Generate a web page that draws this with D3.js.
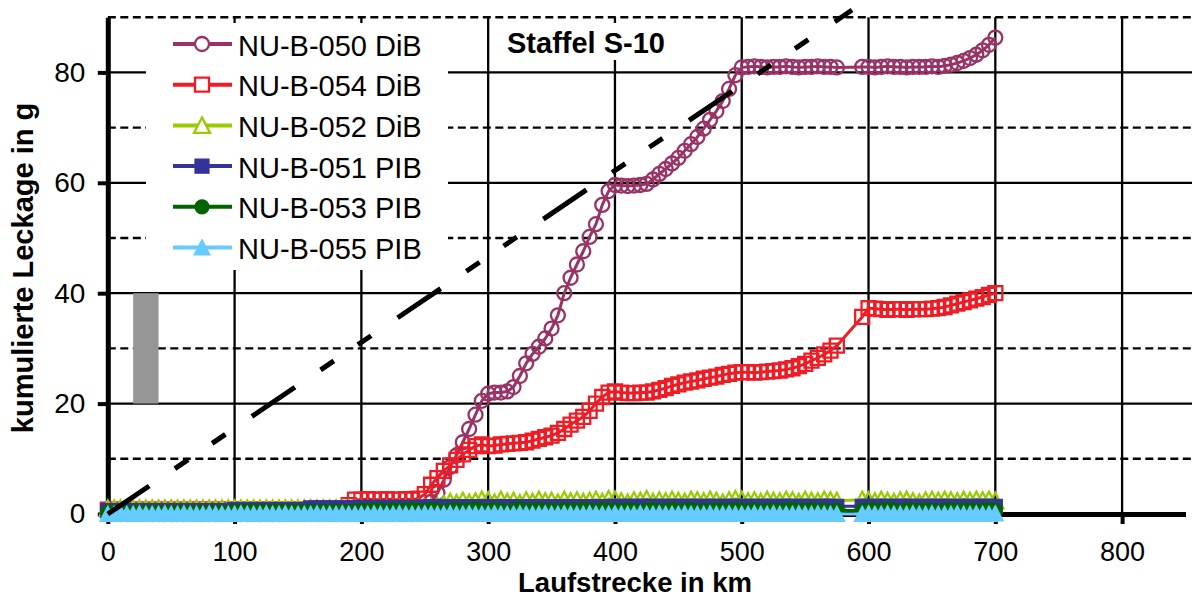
<!DOCTYPE html>
<html>
<head>
<meta charset="utf-8">
<script src="https://cdn.jsdelivr.net/npm/d3@7"></script>
<style>
  html, body { margin: 0; padding: 0; background: #fff; }
  svg { display: block; font-family: "Liberation Sans", Arial, sans-serif; }
</style>
</head>
<body>
<svg id="chart" width="1192" height="598"></svg>
<script>
// Running distance in km at each measurement
const km = [
  0,5,10,15,20,25,30,35,40,45,50,55,60,65,70,75,80,85,90,95,
  100,105,110,115,120,125,130,135,140,145,150,155,160,165,170,175,180,185,190,195,
  200,205,210,215,220,225,230,235,240,245,250,255,260,265,270,275,280,285,290,295,
  300,305,310,315,320,325,330,335,340,345,350,355,360,365,370,375,380,385,390,395,
  400,405,410,415,420,425,430,435,440,445,450,455,460,465,470,475,480,485,490,495,
  500,505,510,515,520,525,530,535,540,545,550,555,560,565,570,575,
  595,600,605,610,615,620,625,630,635,640,645,650,655,660,665,670,675,680,685,690,695,700
];

// Cumulative leakage in g per sample
const nu050 = [
  0,0,0,0,0,0,0,0,0,0,0,0,0,0,0,0,0,0,0,0,
  0,0,0,0,0,0,0,0,0,0,0,0,0,0,0,0,0,0,0,0,
  0,0,0,0,0,0,0,0,0,0,1.0,2.2,3.8,6.2,8.5,10.6,13.0,15.4,18.0,20.5,
  21.8,22.0,22.0,22.2,23.0,25.0,27.3,29.0,30.3,31.8,33.6,36.0,40.0,42.8,45.2,47.6,50.2,52.5,56.0,58.5,
  59.6,59.5,59.4,59.5,59.6,59.8,60.6,61.6,62.5,63.5,64.5,65.8,67.0,68.3,69.8,71.4,73.0,74.8,77.0,79.5,
  80.9,81.0,81.1,81.0,80.9,81.0,81.0,81.1,81.0,80.9,81.0,81.0,81.1,81.0,81.0,80.9,
  81.0,81.0,80.9,81.0,81.1,81.0,81.0,80.9,81.0,81.0,81.0,81.1,81.0,81.2,81.4,81.7,82.1,82.6,83.2,84.0,85.0,86.3
];
const nu054 = [
  0.8,0.8,0.8,0.8,0.8,0.8,0.8,0.8,0.8,0.8,0.8,0.8,0.8,0.8,0.8,0.8,0.8,0.8,0.8,0.8,
  0.8,0.8,0.8,0.8,0.8,0.8,0.8,0.8,0.8,0.8,0.8,0.8,0.8,0.8,0.8,0.8,0.8,0.8,1.6,2.6,
  2.6,2.7,2.6,2.6,2.7,2.6,2.6,2.7,2.6,2.8,3.6,5.3,6.5,7.8,8.8,9.8,10.8,11.6,12.3,12.6,
  12.3,12.4,12.6,12.7,12.8,12.9,13.0,13.3,13.6,13.9,14.2,14.7,15.4,16.2,16.9,17.6,18.7,20.0,21.2,22.0,
  22.2,22.0,21.9,21.9,22.0,22.0,22.2,22.5,22.8,23.2,23.5,23.8,24.0,24.2,24.5,24.7,24.9,25.2,25.4,25.6,
  25.7,25.7,25.6,25.7,25.8,25.9,26.0,26.2,26.4,26.8,27.2,27.8,28.3,28.9,29.6,30.5,
  35.7,37.3,37.2,37.1,37.0,37.1,37.1,37.0,37.1,37.1,37.1,37.2,37.3,37.5,37.8,38.1,38.4,38.7,39.0,39.3,39.7,40.0
];
const nu052 = [
  1.0,1.0,1.0,1.0,1.0,1.0,1.0,1.0,1.0,1.0,1.0,1.0,1.0,1.0,1.0,1.0,1.0,1.0,1.0,1.0,
  1.0,1.0,1.0,1.0,1.0,1.0,1.0,1.0,1.0,1.0,1.0,1.0,1.0,1.0,1.0,1.0,1.0,1.0,1.0,1.0,
  1.0,1.0,1.0,1.0,1.0,1.0,1.0,1.0,1.0,1.0,1.1,1.2,1.4,1.8,2.2,2.0,2.4,2.1,2.3,2.6,
  2.5,2.1,2.6,2.2,2.4,2.0,2.5,2.2,2.6,2.3,2.4,2.1,2.6,2.3,2.5,2.2,2.4,2.6,2.2,2.7,
  2.6,2.3,2.1,2.5,2.4,2.7,2.2,2.5,2.3,2.6,2.4,2.2,2.6,2.5,2.3,2.6,2.4,2.1,2.5,2.7,
  2.6,2.3,2.5,2.2,2.6,2.4,2.3,2.6,2.5,2.2,2.6,2.4,2.3,2.6,2.5,2.4,
  2.6,2.5,2.3,2.6,2.4,2.2,2.5,2.6,2.3,2.1,2.5,2.6,2.4,2.6,2.5,2.3,2.6,2.4,2.6,2.5,2.6,2.4
];
const nu051 = [
  0.6,0.6,0.6,0.6,0.6,0.6,0.6,0.6,0.6,0.6,0.6,0.6,0.6,0.6,0.6,0.6,0.6,0.6,0.6,0.6,
  0.8,0.8,0.8,0.8,0.8,0.8,0.8,0.8,0.8,0.8,0.8,0.8,1.1,1.1,1.1,1.1,1.1,1.1,1.1,1.1,
  1.2,1.2,1.2,1.2,1.2,1.2,1.2,1.2,1.2,1.2,1.3,1.3,1.3,1.3,1.3,1.3,1.3,1.3,1.3,1.3,
  1.3,1.3,1.3,1.3,1.3,1.3,1.3,1.3,1.3,1.3,1.3,1.3,1.3,1.3,1.3,1.3,1.3,1.3,1.3,1.3,
  1.4,1.4,1.4,1.4,1.4,1.4,1.4,1.4,1.4,1.4,1.4,1.4,1.4,1.4,1.4,1.4,1.4,1.4,1.4,1.4,
  1.4,1.4,1.4,1.4,1.4,1.4,1.4,1.4,1.4,1.4,1.4,1.4,1.4,1.4,1.4,1.4,
  1.4,1.4,1.4,1.4,1.4,1.4,1.4,1.4,1.4,1.4,1.4,1.4,1.4,1.4,1.4,1.4,1.4,1.4,1.4,1.4,1.4,1.4
];
const nu053 = [
  0.3,0.3,0.3,0.3,0.3,0.3,0.3,0.3,0.3,0.3,0.3,0.3,0.3,0.3,0.3,0.3,0.3,0.3,0.3,0.3,
  0.5,0.5,0.5,0.5,0.5,0.5,0.5,0.5,0.5,0.5,0.5,0.5,0.5,0.5,0.5,0.5,0.5,0.5,0.5,0.5,
  0.7,0.6,0.8,0.7,0.5,0.8,0.7,0.6,0.9,0.7,0.6,0.8,0.7,0.5,0.7,0.8,0.6,0.7,0.9,0.7,
  0.6,0.8,0.7,0.5,0.7,0.9,0.6,0.7,0.8,0.6,0.7,0.5,0.8,0.7,0.6,0.9,0.7,0.6,0.8,0.7,
  0.7,0.6,0.8,0.7,0.5,0.7,0.8,0.6,0.7,0.9,0.6,0.7,0.8,0.5,0.7,0.6,0.8,0.7,0.6,0.8,
  0.7,0.6,0.8,0.5,0.7,0.8,0.6,0.7,0.9,0.6,0.7,0.8,0.6,0.7,0.5,0.7,
  0.6,0.8,0.7,0.6,0.9,0.7,0.5,0.8,0.7,0.6,0.8,0.7,0.5,0.7,0.8,0.6,0.7,0.8,0.6,0.7,0.8,0.7
];
const nu055 = [
  0,0,0.1,0,0,0.1,0,0,0,0.1,0,0,0.1,0,0,0,0.1,0,0,0,
  0,0.1,0,0,0,0.1,0,0,0.1,0,0,0,0,0.1,0,0,0,0.1,0,0,
  0,0,0.1,0,0,0,0.1,0,0,0,0.1,0,0,0,0.1,0,0,0.1,0,0,
  0,0.1,0,0,0,0.1,0,0,0,0.1,0,0,0.1,0,0,0,0.1,0,0,0,
  0.1,0,0,0,0.1,0,0,0.1,0,0,0,0.1,0,0,0,0.1,0,0,0.1,0,
  0,0,0.1,0,0,0.1,0,0,0,0.1,0,0,0.1,0,0,0,
  0,0.1,0,0,0.1,0,0,0,0.1,0,0,0.1,0,0,0,0.1,0,0,0.1,0,0,0.1
];

const seriesNames = ["NU-B-050 DiB", "NU-B-054 DiB", "NU-B-052 DiB", "NU-B-051 PIB", "NU-B-053 PIB", "NU-B-055 PIB"];

// Limit line (km, g) and the grey range bar (km span, g span)
const limitKm = [0, 587];
const limitG = [0, 91.3];
const barKm = [20, 40];
const barG = [20, 40];

const xTicks = [0, 100, 200, 300, 400, 500, 600, 700, 800];
const yTicks = [0, 20, 40, 60, 80];
const yHalfTicks = [10, 30, 50, 70, 90];

const chartTitle = "Staffel S-10";
const xTitle = "Laufstrecke in km";
const yTitle = "kumulierte Leckage in g";

// ---------------------------------------------------------------
const W = 1192, H = 598;
const svg = d3.select("#chart");

const x = d3.scaleLinear().domain([0, 850]).range([107.8, 1185.5]);
const y = d3.scaleLinear().domain([0, 90]).range([514, 17.2]);

const styles = [
  { color: "#993366", marker: "circle",   filled: false },
  { color: "#ee1c25", marker: "square",   filled: false },
  { color: "#99cc00", marker: "triangle", filled: false },
  { color: "#333399", marker: "square",   filled: true  },
  { color: "#006400", marker: "circle",   filled: true  },
  { color: "#66ccff", marker: "triangle", filled: true  }
];
const valueSets = [nu050, nu054, nu052, nu051, nu053, nu055];

const shapePath = {
  circle: "M-7,0a7,7 0 1,0 14,0a7,7 0 1,0 -14,0Z",
  square: "M-7,-7h14v14h-14Z",
  triangle: "M0,-8L8,7.5L-8,7.5Z"
};

// Grid
const grid = svg.append("g");
grid.selectAll("line.hs").data(yTicks.filter(d => d > 0)).join("line")
  .attr("x1", x(0)).attr("x2", W)
  .attr("y1", d => y(d)).attr("y2", d => y(d))
  .attr("stroke", "#000").attr("stroke-width", 2.3);
grid.selectAll("line.hd").data(yHalfTicks).join("line")
  .attr("x1", x(0)).attr("x2", W)
  .attr("y1", d => y(d)).attr("y2", d => y(d))
  .attr("stroke", "#000").attr("stroke-width", 2.4)
  .attr("stroke-dasharray", "8,4.5");
grid.selectAll("line.v").data(xTicks.filter(d => d > 0)).join("line")
  .attr("x1", d => x(d)).attr("x2", d => x(d))
  .attr("y1", y(90)).attr("y2", y(0))
  .attr("stroke", "#000").attr("stroke-width", 2.3);

// Grey range bar
svg.append("rect")
  .attr("x", x(barKm[0])).attr("width", x(barKm[1]) - x(barKm[0]))
  .attr("y", y(barG[1])).attr("height", y(barG[0]) - y(barG[1]))
  .attr("fill", "#969696");

// Axes
const yAxis = svg.append("g").attr("transform", `translate(${x(0)},0)`)
  .call(d3.axisLeft(y).tickValues(yTicks).tickSize(10).tickSizeOuter(0).tickPadding(12.5).tickFormat(d3.format("d")));
const xAxis = svg.append("g").attr("transform", `translate(0,${y(0)})`)
  .call(d3.axisBottom(x).tickValues(xTicks).tickSize(10).tickSizeOuter(0).tickPadding(18).tickFormat(d3.format("d")));
[[yAxis, 28], [xAxis, 27]].forEach(([a, fs]) => {
  a.select(".domain").attr("stroke", "#000").attr("stroke-width", 5);
  a.selectAll(".tick line").attr("stroke", "#000").attr("stroke-width", 4);
  a.selectAll(".tick text").attr("fill", "#000")
    .style("font-size", fs + "px")
    .style("font-family", '"Liberation Sans", Arial, sans-serif');
});

// Series
const line = d3.line().x(d => x(d.km)).y(d => y(d.v));
const plot = svg.append("g");
valueSets.forEach((vals, i) => {
  const st = styles[i];
  const pts = km.map((k, j) => ({ km: k, v: vals[j] }));
  const g = plot.append("g");
  g.append("path").datum(pts).attr("d", line)
    .attr("fill", "none").attr("stroke", st.color).attr("stroke-width", 3)
    .attr("stroke-linejoin", "round");
  g.selectAll("path.m").data(pts).join("path").attr("class", "m")
    .attr("d", shapePath[st.marker])
    .attr("transform", d => `translate(${x(d.km)},${y(d.v)})`)
    .attr("fill", st.filled ? st.color : "none")
    .attr("stroke", st.color)
    .attr("stroke-width", st.filled ? 1.2 : 2.3);
});

// Limit line
svg.append("path")
  .datum(limitKm.map((k, j) => ({ km: k, v: limitG[j] })))
  .attr("d", line)
  .attr("fill", "none").attr("stroke", "#000").attr("stroke-width", 5)
  .attr("stroke-dasharray", "52,31,16,29,16,32").attr("stroke-dashoffset", 2);

// Title box
svg.append("rect").attr("x", 495).attr("y", 23).attr("width", 185).attr("height", 37).attr("fill", "#fff");
svg.append("text").attr("x", 507).attr("y", 52.5)
  .attr("font-size", 29).attr("font-weight", "bold").attr("fill", "#000")
  .text(chartTitle);

// Legend
const legend = svg.append("g");
legend.append("rect").attr("x", 146).attr("y", 23).attr("width", 302).attr("height", 247).attr("fill", "#fff");
seriesNames.forEach((name, i) => {
  const st = styles[i];
  const cy = 44 + i * 40.7;
  legend.append("line").attr("x1", 173).attr("x2", 232).attr("y1", cy).attr("y2", cy)
    .attr("stroke", st.color).attr("stroke-width", 4);
  legend.append("path").attr("d", shapePath[st.marker])
    .attr("transform", `translate(202,${cy})`)
    .attr("fill", st.filled ? st.color : "#fff")
    .attr("stroke", st.color).attr("stroke-width", st.filled ? 1.2 : 2.3);
  legend.append("text").attr("x", 238).attr("y", cy + 11.5)
    .attr("font-size", 29).attr("fill", "#000").text(name);
});

// Axis titles
svg.append("text").attr("x", 635).attr("y", 592).attr("text-anchor", "middle")
  .attr("font-size", 27.5).attr("font-weight", "bold").attr("fill", "#000").text(xTitle);
svg.append("text").attr("transform", "translate(33,268) rotate(-90)").attr("text-anchor", "middle")
  .attr("font-size", 29).attr("font-weight", "bold").attr("fill", "#000").text(yTitle);
</script>
</body>
</html>
